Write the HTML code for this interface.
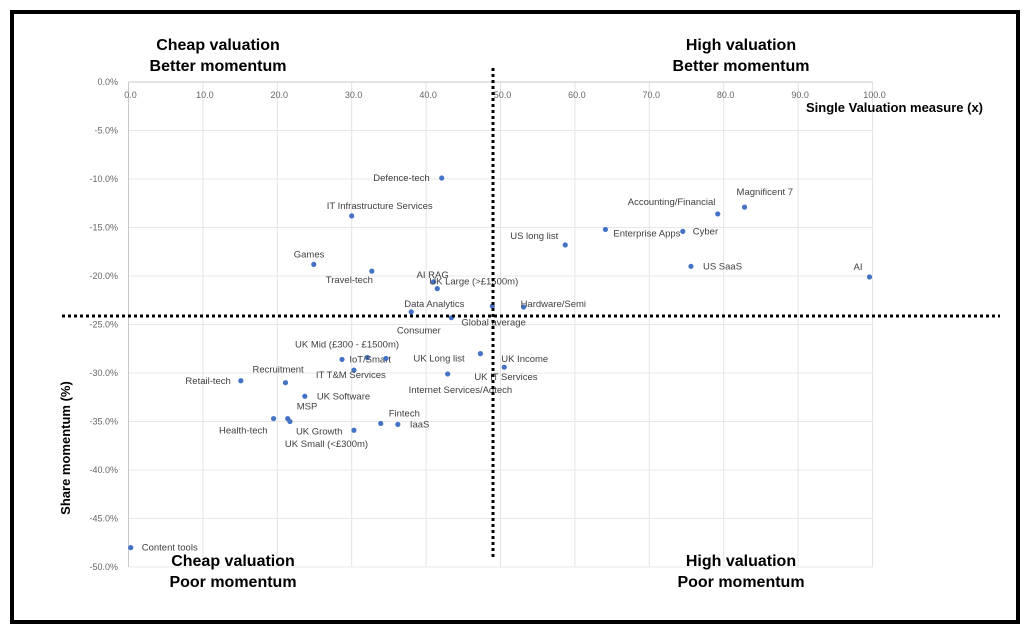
<!DOCTYPE html>
<html><head><meta charset="utf-8"><style>
body{margin:0;background:#fff;width:1030px;height:634px;overflow:hidden}
svg{display:block;font-family:"Liberation Sans",sans-serif}
.q{font-family:"Liberation Sans",sans-serif;font-weight:bold;font-size:16px;fill:#000}
</style></head><body>
<svg id="chart" width="1030" height="634" viewBox="0 0 1030 634">
<rect x="12" y="12" width="1006" height="610" fill="none" stroke="#000" stroke-width="4"/>
<g id="grid"></g><g id="ticks"></g><g id="pts"></g>
<line x1="493" y1="68" x2="493" y2="558" stroke="#000" stroke-width="3" stroke-dasharray="3,3"/>
<line x1="62" y1="316" x2="1000" y2="316" stroke="#000" stroke-width="3" stroke-dasharray="3,3"/>
<text class="q" text-anchor="middle"><tspan x="218" y="50">Cheap valuation</tspan><tspan x="218" y="71">Better momentum</tspan></text>
<text class="q" text-anchor="middle"><tspan x="741" y="50">High valuation</tspan><tspan x="741" y="71">Better momentum</tspan></text>
<text class="q" text-anchor="middle"><tspan x="233" y="566">Cheap valuation</tspan><tspan x="233" y="587">Poor momentum</tspan></text>
<text class="q" text-anchor="middle"><tspan x="741" y="566">High valuation</tspan><tspan x="741" y="587">Poor momentum</tspan></text>
<text x="983" y="112" text-anchor="end" font-weight="bold" font-size="13">Single Valuation measure (x)</text>
<text transform="translate(70,448) rotate(-90)" text-anchor="middle" font-weight="bold" font-size="13">Share momentum (%)</text>
</svg>
<script>
const xTicks=[0,10,20,30,40,50,60,70,80,90,100];
const yTicks=[0,-5,-10,-15,-20,-25,-30,-35,-40,-45,-50];
const names=["Defence-tech","IT Infrastructure Services","Games","Travel-tech","AI RAG","UK Large (>£1500m)","Data Analytics","Global average","UK IT Services","Hardware/Semi","US long list","Enterprise Apps","Cyber","Accounting/Financial","Magnificent 7","US SaaS","AI","UK Mid (£300 - £1500m)","IoT/Smart","Consumer","IT T&M Services","UK Long list","Internet Services/Adtech","UK Income","Retail-tech","Recruitment","UK Software","Health-tech","MSP","UK Growth","UK Small (<£300m)","Fintech","IaaS","Content tools"];
const valX=[42.1,30.0,24.9,32.7,41.0,41.5,38.0,43.4,48.9,53.1,58.7,64.1,74.5,79.2,82.8,75.6,99.6,28.7,32.1,34.6,30.3,47.3,42.9,50.5,15.1,21.1,23.7,19.5,21.4,21.7,30.3,33.9,36.2,0.3];
const valY=[-9.9,-13.8,-18.8,-19.5,-20.6,-21.3,-23.7,-24.3,-23.1,-23.2,-16.8,-15.2,-15.4,-13.6,-12.9,-19.0,-20.1,-28.6,-28.4,-28.5,-29.7,-28.0,-30.1,-29.4,-30.8,-31.0,-32.4,-34.7,-34.7,-35.0,-35.9,-35.2,-35.3,-48.0];
const labDx=[-12,-25,-20,-46,-17,-8,-7,10,-18,-3,-55,8,10,-90,-8,12,-16,-47,-18,11,-38,-67,-39,-3,-10,-33,12,-6,9,6,-69,8,12,11];
const labDy=[0,-10,-10,9,-7,-7,-8,5,71,-3,-9,4,0,-12,-15,0,-10,-15,2,-28,5,5,16,-8,0,-13,0,12,-12,10,14,-10,0,0];
const labAnchor=[1,0,0,0,0,0,0,0,0,0,0,0,0,0,0,0,0,0,0,0,0,0,0,0,1,0,0,1,0,0,0,0,0,0];
const X=v=>128.5+v*7.44;
const NS="http://www.w3.org/2000/svg";
const g=document.getElementById('grid'),t=document.getElementById('ticks'),p=document.getElementById('pts');
function mk(tag,a,par){const e=document.createElementNS(NS,tag);for(const k in a)e.setAttribute(k,a[k]);par.appendChild(e);return e;}
xTicks.forEach(v=>{
 const l=mk('line',{x1:X(v),x2:X(v),y1:82,y2:567,stroke:'#e3e3e3','stroke-width':1},g);
 
 
 const s=mk('text',{x:X(v)+2,y:98,'text-anchor':'middle','font-size':9,fill:'#666'},t);s.textContent=v.toFixed(1);
 
 
});
yTicks.forEach(v=>{
 const y=82-v*9.7;
 const l=mk('line',{x1:128.5,x2:872.5,y1:y,y2:y,stroke:v===0?'#c8c8c8':'#e8e8e8','stroke-width':1},g);
 
 
 const s=mk('text',{x:118,y:y+3,'text-anchor':'end','font-size':9,fill:'#666'},t);s.textContent=v.toFixed(1)+'%';
 
 
});
mk('line',{x1:128.5,x2:128.5,y1:82,y2:567,stroke:'#c8c8c8'},g);
names.forEach((n,i)=>{
 const cx=X(valX[i]),cy=82-valY[i]*9.7;
 const c=mk('circle',{cx:cx,cy:cy,r:2.6,fill:'#4472c4'},p);
 
 
 const s=mk('text',{x:cx+labDx[i],y:cy+labDy[i]+3,'text-anchor':labAnchor[i]?'end':'start','font-size':9.5,fill:'#404040'},p);
 s.textContent=n;
 
 
});
</script>
</body></html>
